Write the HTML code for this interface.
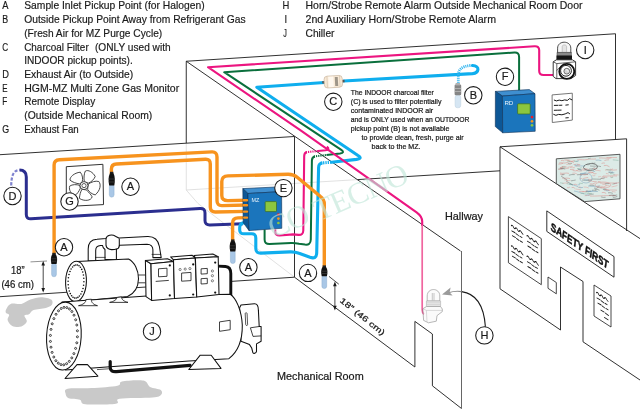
<!DOCTYPE html>
<html lang="en">
<head>
<meta charset="utf-8">
<title>HGM-MZ Multi Zone Gas Monitor installation diagram</title>
<style>
html,body{margin:0;padding:0;background:#fff;}
body{width:640px;height:410px;overflow:hidden;font-family:"Liberation Sans",sans-serif;}
svg{display:block;position:absolute;left:0;top:0;opacity:0.999;will-change:transform;}
svg text{font-family:"Liberation Sans",sans-serif;}
.lg{font-size:11px;fill:#1a1a1a;stroke:#1a1a1a;stroke-width:0.18px;}
.nt{font-size:7.3px;fill:#1a1a1a;}
.rm{font-size:9.6px;fill:#1a1a1a;stroke:#1a1a1a;stroke-width:0.22px;}
.cl{font-size:11px;fill:#1a1a1a;text-anchor:middle;stroke:#1a1a1a;stroke-width:0.2px;}
.wl{stroke:#1a1a1a;stroke-width:0.9;fill:none;}
.hl{stroke:#d9d9d9;stroke-width:0.8;fill:none;}
.or{stroke:#f7931e;stroke-width:3.4;fill:none;stroke-linecap:butt;stroke-linejoin:round;}
.nv{stroke:#2b2e8f;stroke-width:3;fill:none;stroke-linejoin:round;}
.cy{stroke:#0faeee;stroke-width:3.1;fill:none;stroke-linejoin:round;}
.gr{stroke:#0a6f3c;stroke-width:2;fill:none;stroke-linejoin:round;}
.pk{stroke:#ec1580;stroke-width:2.1;fill:none;stroke-linejoin:round;}
.cc{fill:#fff;stroke:#1a1a1a;stroke-width:1.05;}
.ch{fill:#fff;stroke:#111;stroke-width:1.05;stroke-linejoin:round;}
</style>
</head>
<body>
<svg width="640" height="410" viewBox="0 0 640 410">
<rect x="0" y="0" width="640" height="410" fill="#ffffff"/>

<!-- LEGEND -->
<g id="legend" class="lg">
<text x="2.2" y="9.4" textLength="6.2" lengthAdjust="spacingAndGlyphs">A</text><text x="24.2" y="9.4" textLength="180.5" lengthAdjust="spacingAndGlyphs">Sample Inlet Pickup Point (for Halogen)</text>
<text x="2.2" y="23.1" textLength="5.9" lengthAdjust="spacingAndGlyphs">B</text><text x="24.2" y="23.1" textLength="221.5" lengthAdjust="spacingAndGlyphs">Outside Pickup Point Away from Refrigerant Gas</text>
<text x="24.2" y="36.8" textLength="138" lengthAdjust="spacingAndGlyphs">(Fresh Air for MZ Purge Cycle)</text>
<text x="2.2" y="50.5" textLength="5.9" lengthAdjust="spacingAndGlyphs">C</text><text x="24.2" y="50.5" textLength="64.5" lengthAdjust="spacingAndGlyphs">Charcoal Filter</text><text x="95" y="50.5" textLength="75.6" lengthAdjust="spacingAndGlyphs">(ONLY used with</text>
<text x="24.2" y="64.2" textLength="108.5" lengthAdjust="spacingAndGlyphs">INDOOR pickup points).</text>
<text x="2.2" y="77.9" textLength="6.7" lengthAdjust="spacingAndGlyphs">D</text><text x="24.2" y="77.9" textLength="109" lengthAdjust="spacingAndGlyphs">Exhaust Air (to Outside)</text>
<text x="2.2" y="91.6" textLength="5.3" lengthAdjust="spacingAndGlyphs">E</text><text x="24.2" y="91.6" textLength="155" lengthAdjust="spacingAndGlyphs">HGM-MZ Multi Zone Gas Monitor</text>
<text x="2.2" y="105.3" textLength="5" lengthAdjust="spacingAndGlyphs">F</text><text x="24.2" y="105.3" textLength="71" lengthAdjust="spacingAndGlyphs">Remote Display</text>
<text x="24.2" y="119.0" textLength="128" lengthAdjust="spacingAndGlyphs">(Outside Mechanical Room)</text>
<text x="2.2" y="132.7" textLength="6.9" lengthAdjust="spacingAndGlyphs">G</text><text x="24.2" y="132.7" textLength="54.5" lengthAdjust="spacingAndGlyphs">Exhaust Fan</text>
<text x="282.6" y="9.4" textLength="6.8" lengthAdjust="spacingAndGlyphs">H</text><text x="305.5" y="9.4" textLength="277" lengthAdjust="spacingAndGlyphs">Horn/Strobe Remote Alarm Outside Mechanical Room Door</text>
<text x="284.4" y="23.1" textLength="2.6" lengthAdjust="spacingAndGlyphs">I</text><text x="305.5" y="23.1" textLength="190.5" lengthAdjust="spacingAndGlyphs">2nd Auxiliary Horn/Strobe Remote Alarm</text>
<text x="283.2" y="36.8" textLength="3.6" lengthAdjust="spacingAndGlyphs">J</text><text x="305.5" y="36.8" textLength="29" lengthAdjust="spacingAndGlyphs">Chiller</text>
</g>

<!-- ROOM STRUCTURE -->
<g id="walls">
<path class="hl" d="M186.25 143V190M186.25 190L357.7 179.6M186.25 190L198 203.5L294.5 277.2"/>
<path class="wl" d="M0 154.7L294.5 136.5"/>
<path class="wl" d="M186.25 61.25L615.5 33.75V139.4"/>
<path class="wl" d="M186.25 61.25V143"/>
<path class="wl" d="M186.25 61.25L460.5 251"/>
<path class="wl" d="M294.5 136.5V277.2"/>
<path class="wl" d="M0 296.7L294.5 277.2"/>
<path class="wl" d="M294.5 277.2L414.9 367V321.4L432.4 334V385.8L461.5 408.5"/>
<path d="M461.5 251V408.5" stroke="#555" stroke-width="0.9" fill="none"/>
<path class="wl" d="M357.7 179.6L500 170.8"/>
</g>


<!-- PIPES -->
<g id="pipes">
<!-- navy exhaust -->
<path d="M11.2 185.5C11.5 176 13 170.3 19.5 170" stroke="#7f83cf" stroke-width="2.2" fill="none" stroke-dasharray="3.2 1.6"/>
<path class="nv" d="M19.5 170C24.5 170 26.3 172.5 26.3 177V214.5Q26.3 219 31 218.7L200 208.5Q205 208.2 205 213V220.5Q205 225.2 210 225L243 223.8"/>
<!-- orange -->
<path class="or" d="M54.1 254V165Q54.1 160 59.5 159.7L212 151.9Q217 151.7 217 157V200.5Q217 205.8 222 205.6L247 205"/>
<path class="or" d="M111.4 174V169Q111.4 164.3 116.5 164L205.5 159.2Q210.3 159 210.3 164V207Q210.3 212.2 215.5 212L247 211.4"/>
<path class="or" d="M247 217.6L238 217.9Q232.6 218.1 232.6 223V242"/>
<!-- cyan -->
<path class="cy" d="M245 222.6Q239.7 223 239.7 227.5V230Q239.7 233.9 244 233.8L251.5 233.7Q255.8 233.6 255.8 238V248.5Q255.8 253.3 261 253.1L290 251.9Q295 251.7 299 253.3L310 257.3Q316.5 259.5 316.7 253L318.6 167.5Q318.7 163.3 322.5 163" />
<path class="cy" d="M320.8 163.1L331.7 162.1" stroke-dasharray="1.3 1"/>
<path class="cy" d="M331.7 162.3L356.5 159.4Q363 158.4 358 155.5L256.800 87.200L324.5 82.5M343.7 81L472.5 73.6C479 73 480.500 66 472.5 65.5" stroke-linecap="round"/>
<path d="M470.5 65.5C462 66.3 458.5 69 458.3 75V84" stroke="#2fb4ef" stroke-width="2.8" fill="none" stroke-dasharray="1.1 0.9"/>
<!-- green -->
<path class="gr" d="M264.6 229.5V239.5Q264.6 244.2 269.5 244.1L291 243.1Q295 243 299 243.7L305 244.6Q310.6 245.3 310.8 239.5L311.9 160.5Q312 156.8 315 156.4"/>
<path class="gr" d="M313.8 156.5L326.5 155" stroke-dasharray="1.2 1"/>
<path class="gr" d="M326.5 155L340 153.6Q345.3 152.8 341.3 149.9L224.2 72.2L514.5 52.5Q519.1 52.2 519.1 57V91.5"/>
<!-- pink -->
<path class="pk" d="M275.2 229.5V231.5Q275.2 235.6 279.5 235.5L293 234.4L298.5 234.9Q303.1 235.2 303.3 230.5L304.2 156Q304.3 152.5 307 152.1"/>
<path class="pk" d="M305.8 152.2L318 151" stroke-dasharray="1.2 1"/>
<path class="pk" d="M318 151L325.5 150.3Q330.5 149.6 326.8 146.7"/>
<path class="pk" d="M553 75H543.5Q539.2 75 539.2 71V50.3Q539.2 46 534.5 46.3L208 67.2L301 130.6L416.6 212.4Q422.2 216.4 422.2 221.5V226"/>
<path d="M422.2 225V310Q422.2 313 424 314.2" stroke="#f0659f" stroke-width="1.7" fill="none"/>
<path class="or" d="M247 200.2L228 200.6Q221.8 200.8 221.8 195.5V181.5Q221.8 176.2 228 175.9L288 174.3Q293.5 174.2 297.5 177.5L320.5 196.5Q324.3 199.5 324.3 204V268"/>
</g>


<!-- DEVICES -->
<g id="devices">
<!-- MZ box -->
<g id="mz">
<path d="M242.8 188.6L276 187L281.6 191.6L247.9 193.5Z" fill="#3f8fd0" stroke="#0b2f55" stroke-width="0.6" stroke-linejoin="round"/>
<path d="M242.8 188.6L247.9 193.5L249 230.6L243.2 222.6Z" fill="#0d5796" stroke="#0b2f55" stroke-width="0.6" stroke-linejoin="round"/>
<path d="M247.9 193.5L281.6 191.6L281.8 228.3L249 230.6Z" fill="#1b75bc" stroke="#0b2f55" stroke-width="0.6" stroke-linejoin="round"/>
<rect x="265.2" y="201.6" width="11.3" height="10" rx="0.8" fill="#8cc63f" stroke="#3b6e1f" stroke-width="0.7"/>
<circle cx="278.4" cy="214.5" r="1.35" fill="#ed1c24"/><circle cx="278.4" cy="218.6" r="1.35" fill="#f7941d"/><circle cx="278.4" cy="223" r="1.35" fill="#8cc63f"/>
<text x="251.4" y="201.6" font-size="5.4" fill="#e8f2fb">MZ</text>
<path d="M247 200.2H243.6M247 205.3H243.8M247 211.6H244M247 217.6H244.2" stroke="#f7931e" stroke-width="2.4" fill="none" stroke-linecap="round"/>
</g>
<!-- RD box -->
<g id="rd">
<path d="M495.4 91.4L529.3 89.6L535 93.7L502.4 96Z" fill="#3f8fd0" stroke="#0b2f55" stroke-width="0.6" stroke-linejoin="round"/>
<path d="M495.4 91.4L502.4 96L502.7 132.8L495.3 126.6Z" fill="#0d5796" stroke="#0b2f55" stroke-width="0.6" stroke-linejoin="round"/>
<path d="M502.4 96L535 93.7L535.2 131.3L502.7 132.8Z" fill="#1b75bc" stroke="#0b2f55" stroke-width="0.6" stroke-linejoin="round"/>
<rect x="517.6" y="103.8" width="12.6" height="10.2" rx="0.8" fill="#8cc63f" stroke="#3b6e1f" stroke-width="0.7"/>
<circle cx="532" cy="117.1" r="1.35" fill="#ed1c24"/><circle cx="532" cy="121.3" r="1.35" fill="#f7941d"/><circle cx="532" cy="125.3" r="1.35" fill="#8cc63f"/>
<text x="504.4" y="105.2" font-size="6.2" fill="#e8f2fb">RD</text>
</g>
<!-- sensors A -->
<g id="sA1"><rect x="109.3" y="184.4" width="4.8" height="12.8" rx="2.4" fill="#a9c7e6" stroke="#7fa3c8" stroke-width="0.4"/><rect x="110.0" y="171.8" width="3.4" height="2.6" fill="#222"/><path d="M109.8 173.6C108.3 176.6 108.3 180.8 109.1 185.6L114.3 185.6L114.3 185.6L114.3 185.6C115.1 180.8 115.1 176.6 113.6 173.6Z" fill="#111"/><path d="M108.8 179.0H114.6M108.8 182.0H114.6" stroke="#555" stroke-width="0.5"/></g>
<g id="sA2"><rect x="51.6" y="262.8" width="4.8" height="14.0" rx="2.4" fill="#a9c7e6" stroke="#7fa3c8" stroke-width="0.4"/><rect x="52.3" y="252.8" width="3.4" height="2.6" fill="#222"/><path d="M52.1 254.6C50.6 256.9 50.6 260.2 51.4 264.0L56.6 264.0L56.6 264.0L56.6 264.0C57.4 260.2 57.4 256.9 55.9 254.6Z" fill="#111"/><path d="M51.1 258.8H56.9M51.1 261.2H56.9" stroke="#555" stroke-width="0.5"/></g>
<g id="sA3"><rect x="230.4" y="250.2" width="4.8" height="13.4" rx="2.4" fill="#a9c7e6" stroke="#7fa3c8" stroke-width="0.4"/><rect x="231.1" y="239.4" width="3.4" height="2.6" fill="#222"/><path d="M230.9 241.2C229.4 243.8 229.4 247.3 230.2 251.4L235.4 251.4L235.4 251.4L235.4 251.4C236.2 247.3 236.2 243.8 234.7 241.2Z" fill="#111"/><path d="M229.9 245.8H235.7M229.9 248.3H235.7" stroke="#555" stroke-width="0.5"/></g>
<g id="sA4"><rect x="321.9" y="275.0" width="4.8" height="13.6" rx="2.4" fill="#a9c7e6" stroke="#7fa3c8" stroke-width="0.4"/><rect x="322.6" y="265.4" width="3.4" height="2.6" fill="#222"/><path d="M322.4 267.2C320.9 269.4 320.9 272.6 321.7 276.2L326.9 276.2L326.9 276.2L326.9 276.2C327.7 272.6 327.7 269.4 326.2 267.2Z" fill="#111"/><path d="M321.4 271.2H327.2M321.4 273.5H327.2" stroke="#555" stroke-width="0.5"/></g>
<!-- sensor B (faded) -->
<g id="sB"><rect x="455" y="95" width="5.8" height="12.8" rx="2.6" fill="#d6e6f3" stroke="#b5c9da" stroke-width="0.4"/><rect x="454.6" y="84.6" width="6.6" height="10.6" rx="1.2" fill="#858585"/><rect x="455.6" y="83" width="4.4" height="2.4" fill="#b0b0b0"/><path d="M454.4 88.5H461.2M454.4 91.5H461.2" stroke="#c9c9c9" stroke-width="0.6"/></g>
<!-- charcoal filter -->
<g id="filt" transform="rotate(-3.4 333.4 81.700)">
<rect x="322.2" y="80.5" width="3" height="2.4" fill="#555"/><rect x="341.600" y="80.5" width="3" height="2.4" fill="#555"/>
<rect x="324.2" y="75.8" width="18.2" height="11.800" rx="3.2" fill="#f8e9d6" stroke="#c2ad94" stroke-width="0.6"/>
<rect x="328.500" y="76.400" width="5" height="10.600" fill="#fffaf2" opacity="0.9"/>
<path d="M327.200 76V87.400M339.800 76V87.400" stroke="#d3c1aa" stroke-width="0.6"/>
<rect x="335" y="77.200" width="3" height="9" fill="#6f6a60" opacity="0.65"/>
</g>
</g>

<!-- FOREGROUND WALL -->
<g id="fwall">
<path class="wl" d="M500 146.8L626.6 138.8V231"/>
<path class="wl" d="M500 146.8L640 238.6"/>
<path class="wl" d="M500 146.8V288.8L560.5 330V267L583 281.5V341.8L640 380"/>
</g>
<!-- whiteboard on inner face -->
<g id="wb">
<path d="M556.3 158.8L620 154.3V198.8L584.6 201.6L556.3 183.6Z" fill="#dcebe7" stroke="#333" stroke-width="0.8" stroke-linejoin="round"/>
<g fill="none" stroke-width="0.5" opacity="0.8">
<path d="M559 163c3-1 5 1 8-.5s5-1 7 0M560 168c4-.5 6 1 9 0M577 160c4-1 7 .5 10-.5s6 0 9-.6M599 158c3-.4 6 .5 9 0s6-.6 9-.4M560 173c3 1 6-.6 9 .4M562 178c3 .6 5-.4 8 .6M605 170c3-.5 6 .6 12-.2M603 176c4 .4 8-.6 14 0M600 183c5 .6 9-.4 17 .2M604 190c4 .4 8-.4 13 .2M590 196c6 .4 12-.6 26-.4" stroke="#d9736f"/>
<path d="M575 166c4-.6 7 .4 10-.2M569 184c3 .5 6 1.4 9 2.6M574 191c4 .8 7 1.6 10 3M588 186c4 .4 8 .6 12 0M586 191c4 .4 8 .8 12 .4" stroke="#5b8fb5"/>
<path d="M561 176l6 4M566 181l7 4M590 166c4 .6 8-.4 11 .6M592 179c3 .4 6-.2 9 .3M580 174c3 .3 5 .2 8 .5M582 180c2 .3 5 .2 7 .4" stroke="#555"/>
</g>
<g fill="none" stroke-width="0.55" opacity="0.75"><path d="M571.2 161.6q1.9 -1.0 3.9 -0.7" stroke="#d9736f"/><path d="M588.8 169.1q3.0 0.1 6.0 -1.3" stroke="#555"/><path d="M573.5 164.4q1.4 0.7 2.9 -0.4" stroke="#d9736f"/><path d="M603.2 189.5q1.6 0.7 3.2 -0.3" stroke="#6aa089"/><path d="M611.8 191.4q1.9 0.3 3.8 0.7" stroke="#e08b86"/><path d="M586.3 164.6q2.1 0.7 4.2 -0.9" stroke="#555"/><path d="M558.4 169.2q2.5 -0.6 5.0 -0.5" stroke="#555"/><path d="M581.7 169.0q2.0 0.6 4.1 -0.5" stroke="#e08b86"/><path d="M593.1 168.7q2.2 -0.7 4.4 -0.1" stroke="#e08b86"/><path d="M595.7 160.2q2.8 -0.4 5.7 0.4" stroke="#5b8fb5"/><path d="M577.9 187.4q1.8 -0.8 3.6 0.1" stroke="#e08b86"/><path d="M561.5 166.7q2.6 -0.8 5.2 0.3" stroke="#d9736f"/><path d="M610.3 169.1q1.3 0.8 2.6 -0.2" stroke="#d9736f"/><path d="M611.5 186.9q2.9 -0.4 5.9 -1.4" stroke="#e08b86"/><path d="M566.6 183.6q2.8 0.6 5.5 1.0" stroke="#6aa089"/><path d="M574.4 165.2q2.0 0.2 4.1 -0.7" stroke="#5b8fb5"/><path d="M566.9 180.4q1.9 0.6 3.8 -0.1" stroke="#e08b86"/><path d="M578.3 169.1q1.4 0.8 2.8 0.7" stroke="#5b8fb5"/><path d="M564.4 160.0q2.5 0.2 5.1 0.2" stroke="#d9736f"/><path d="M588.6 180.8q1.8 -0.4 3.6 -0.8" stroke="#555"/><path d="M613.8 183.6q1.6 -0.2 3.2 -0.5" stroke="#5b8fb5"/><path d="M560.1 174.3q1.7 -0.0 3.4 0.7" stroke="#d9736f"/><path d="M559.8 167.7q1.7 -0.2 3.3 -0.5" stroke="#d9736f"/><path d="M572.7 170.5q2.8 1.0 5.6 -0.5" stroke="#d9736f"/><path d="M580.6 193.5q2.4 -0.9 4.8 0.7" stroke="#6aa089"/><path d="M579.7 174.7q2.9 -0.3 5.8 0.2" stroke="#d9736f"/><path d="M594.8 189.5q2.4 -0.6 4.7 0.7" stroke="#555"/><path d="M602.9 189.5q1.8 -0.9 3.7 -0.2" stroke="#5b8fb5"/><path d="M612.4 196.0q2.4 -0.7 4.8 -1.1" stroke="#555"/><path d="M612.2 184.2q1.4 -0.1 2.7 -0.5" stroke="#6aa089"/><path d="M584.4 173.6q1.9 0.8 3.9 0.6" stroke="#d9736f"/><path d="M601.8 192.6q2.2 -0.7 4.4 0.8" stroke="#d9736f"/><path d="M592.1 190.2q2.2 -0.1 4.5 0.6" stroke="#555"/><path d="M564.3 179.9q1.7 -0.3 3.4 0.5" stroke="#d9736f"/><path d="M601.0 178.4q1.3 -0.8 2.5 0.4" stroke="#d9736f"/><path d="M588.4 172.7q2.6 0.5 5.3 -0.5" stroke="#d9736f"/><path d="M605.9 173.5q1.4 0.0 2.8 0.6" stroke="#e08b86"/><path d="M582.3 191.8q2.6 0.3 5.2 -1.1" stroke="#d9736f"/><path d="M610.1 176.6q1.5 0.7 2.9 0.1" stroke="#e08b86"/><path d="M567.9 163.5q2.1 0.9 4.2 -0.3" stroke="#555"/><path d="M558.3 164.2q2.4 -0.0 4.8 -0.9" stroke="#d9736f"/><path d="M598.1 176.9q1.4 -0.3 2.8 -0.4" stroke="#e08b86"/><path d="M600.9 196.9q2.3 0.8 4.7 0.4" stroke="#555"/><path d="M588.5 193.9q2.6 0.6 5.2 0.2" stroke="#555"/><path d="M592.3 175.2q1.5 1.0 3.0 0.4" stroke="#e08b86"/><path d="M577.0 174.8q2.3 -0.6 4.6 0.4" stroke="#555"/><path d="M608.5 172.4q2.3 0.8 4.5 -0.3" stroke="#555"/><path d="M562.3 183.3q2.8 -0.3 5.7 -0.5" stroke="#e08b86"/><path d="M604.5 189.5q2.7 -0.6 5.3 1.2" stroke="#d9736f"/><path d="M613.3 183.9q3.0 -0.7 5.7 -1.3" stroke="#d9736f"/><path d="M584.8 193.0q1.6 -0.4 3.3 0.5" stroke="#6aa089"/><path d="M610.0 173.7q2.3 -0.6 4.6 0.9" stroke="#6aa089"/><path d="M578.6 187.3q2.2 0.8 4.4 0.1" stroke="#5b8fb5"/><path d="M580.4 173.5q2.7 0.2 5.4 -0.6" stroke="#5b8fb5"/><path d="M583.7 179.9q2.7 0.2 5.4 -0.3" stroke="#5b8fb5"/><path d="M566.7 160.2q3.0 0.2 5.9 1.4" stroke="#e08b86"/><path d="M575.5 161.2q1.7 0.8 3.4 -0.5" stroke="#5b8fb5"/><path d="M601.6 163.4q1.7 -0.7 3.3 -0.3" stroke="#d9736f"/><path d="M602.3 184.7q2.2 -1.0 4.4 1.0" stroke="#e08b86"/><path d="M571.7 187.6q1.6 -0.8 3.2 0.7" stroke="#d9736f"/><path d="M597.3 186.8q2.4 0.4 4.8 1.1" stroke="#6aa089"/><path d="M589.4 185.3q2.5 -0.2 5.0 0.1" stroke="#555"/><path d="M570.0 169.4q2.1 0.7 4.3 -0.3" stroke="#d9736f"/><path d="M572.3 173.2q2.4 -0.7 4.9 0.9" stroke="#e08b86"/><path d="M573.6 184.5q1.8 -0.7 3.6 0.5" stroke="#d9736f"/><path d="M605.5 190.4q1.7 0.8 3.3 0.1" stroke="#5b8fb5"/><path d="M587.8 192.9q2.0 0.9 4.1 0.5" stroke="#6aa089"/><path d="M579.2 191.4q2.7 -0.1 5.4 0.2" stroke="#d9736f"/><path d="M608.6 171.8q2.9 0.2 5.8 1.0" stroke="#5b8fb5"/><path d="M560.1 182.8q1.7 0.2 3.4 0.6" stroke="#6aa089"/><path d="M601.9 176.6q2.7 0.8 5.4 0.8" stroke="#d9736f"/><path d="M608.0 192.8q2.4 -0.4 4.8 0.5" stroke="#555"/><path d="M584.7 195.7q2.9 -0.0 5.7 -0.9" stroke="#d9736f"/><path d="M588.6 181.4q1.7 -0.3 3.4 -0.5" stroke="#d9736f"/><path d="M591.7 163.0q1.8 0.7 3.6 0.0" stroke="#555"/><path d="M562.0 166.5q1.7 0.9 3.5 0.8" stroke="#6aa089"/><path d="M569.9 167.5q2.5 0.7 5.1 -0.4" stroke="#e08b86"/><path d="M593.4 173.6q1.6 0.5 3.1 -0.0" stroke="#d9736f"/><path d="M606.3 169.5q2.5 0.4 4.9 0.7" stroke="#6aa089"/><path d="M576.0 166.1q2.1 -0.3 4.2 -0.1" stroke="#e08b86"/><path d="M608.9 195.5q2.9 -0.6 5.7 -0.3" stroke="#555"/><path d="M573.7 161.0q2.0 0.8 3.9 0.2" stroke="#6aa089"/><path d="M567.3 161.2q1.6 -0.6 3.2 0.7" stroke="#6aa089"/><path d="M594.0 188.1q2.4 1.0 4.8 -1.2" stroke="#555"/><path d="M567.3 167.3q2.7 -0.4 5.5 -1.1" stroke="#e08b86"/><path d="M589.8 183.9q2.8 0.8 5.7 -1.2" stroke="#d9736f"/><path d="M599.8 187.7q2.7 -0.9 5.3 0.5" stroke="#e08b86"/><path d="M576.2 170.6q3.0 1.0 5.9 0.3" stroke="#e08b86"/><path d="M567.1 187.7q1.3 0.4 2.7 -0.6" stroke="#d9736f"/><path d="M612.8 159.8q2.8 0.3 5.7 0.6" stroke="#6aa089"/><path d="M585.7 191.4q2.6 0.1 5.3 -0.3" stroke="#555"/><path d="M588.3 172.0q2.6 -0.6 5.1 0.9" stroke="#d9736f"/><path d="M578.1 169.4q1.9 0.4 3.8 0.7" stroke="#555"/><path d="M579.5 178.9q1.4 -0.6 2.9 -0.4" stroke="#e08b86"/><path d="M587.9 158.3q1.5 0.5 2.9 -0.3" stroke="#6aa089"/><path d="M610.6 177.4q1.3 0.6 2.6 -0.3" stroke="#6aa089"/><path d="M592.6 171.5q1.3 -0.9 2.5 0.2" stroke="#5b8fb5"/><path d="M601.9 186.8q2.0 0.2 4.0 -0.8" stroke="#e08b86"/><path d="M561.0 160.6q1.5 -0.6 3.1 0.3" stroke="#d9736f"/><path d="M592.4 181.5q2.3 -0.2 4.6 0.5" stroke="#d9736f"/><path d="M571.0 180.9q2.3 -0.4 4.7 -0.9" stroke="#555"/><path d="M582.4 170.1q2.4 0.9 4.7 -0.8" stroke="#e08b86"/><path d="M604.9 183.9q2.3 -0.3 4.5 -0.3" stroke="#555"/><path d="M588.1 179.3q1.9 -0.0 3.8 0.7" stroke="#d9736f"/><path d="M604.4 160.5q2.3 -0.7 4.7 -0.7" stroke="#d9736f"/><path d="M597.8 181.4q1.3 0.4 2.7 0.4" stroke="#d9736f"/><path d="M566.4 164.5q2.3 -0.6 4.7 -0.5" stroke="#e08b86"/><path d="M584.5 168.8q2.5 -0.4 4.9 1.1" stroke="#d9736f"/><path d="M587.6 191.6q2.7 0.4 5.5 -1.2" stroke="#5b8fb5"/><path d="M602.8 189.1q1.3 0.9 2.6 -0.4" stroke="#6aa089"/><path d="M603.8 165.6q2.9 -1.0 5.7 1.2" stroke="#d9736f"/><path d="M558.2 169.2q2.2 0.0 4.3 -0.2" stroke="#d9736f"/><path d="M577.0 164.2q1.6 0.4 3.2 0.3" stroke="#d9736f"/><path d="M561.6 174.9q1.5 -0.4 3.0 -0.6" stroke="#555"/><path d="M577.0 168.6q2.3 0.2 4.6 -0.9" stroke="#6aa089"/><path d="M560.4 168.4q2.4 -0.3 4.8 0.7" stroke="#555"/><path d="M600.5 178.5q2.2 -0.1 4.4 -0.6" stroke="#555"/><path d="M612.9 197.4q2.3 0.1 4.5 -1.1" stroke="#555"/><path d="M596.3 186.5q2.9 -0.7 5.8 -0.1" stroke="#e08b86"/><path d="M605.6 185.7q2.2 -0.3 4.4 0.3" stroke="#e08b86"/><path d="M595.2 170.1q2.8 0.3 5.5 0.8" stroke="#e08b86"/><path d="M568.9 175.2q3.0 -1.0 5.9 -0.6" stroke="#555"/><path d="M606.6 157.6q2.4 0.8 4.8 0.1" stroke="#d9736f"/><path d="M578.9 183.3q1.9 -0.1 3.9 0.3" stroke="#6aa089"/><path d="M586.4 171.2q1.3 -1.0 2.7 -0.4" stroke="#5b8fb5"/><path d="M613.6 174.9q2.5 -0.3 5.1 0.1" stroke="#e08b86"/><path d="M577.6 184.8q1.3 0.1 2.5 -0.2" stroke="#5b8fb5"/><path d="M585.4 195.0q2.0 -0.7 4.0 0.5" stroke="#5b8fb5"/><path d="M583.1 178.5q2.6 -0.7 5.1 -1.0" stroke="#d9736f"/><path d="M583.6 187.0q2.6 -0.2 5.2 1.0" stroke="#e08b86"/><path d="M575.3 188.9q2.8 0.8 5.6 0.6" stroke="#e08b86"/></g>
<ellipse cx="590.5" cy="167" rx="7" ry="3.4" fill="none" stroke="#444" stroke-width="0.6" transform="rotate(-4 590.5 167)"/>
<ellipse cx="586" cy="178" rx="6" ry="5" fill="none" stroke="#7aa0b8" stroke-width="0.5"/>
<ellipse cx="603" cy="185" rx="8" ry="3" fill="none" stroke="#d9908c" stroke-width="0.5"/>
</g>
<!-- paper under I -->
<g id="paperI">
<path d="M552.1 94.9L572.3 93.2V120.1L552.3 122.5Z" fill="#fff" stroke="#555" stroke-width="0.8" stroke-linejoin="round"/>
<g fill="none" stroke="#1a1a1a" stroke-width="1" stroke-linecap="round" stroke-linejoin="round">
<path d="M554.3 100.1 L556.4 100.9 L559.2 100.1 L561.9 100.7 L564.7 99.9 L567.4 100.4 L569.6 98.6 L571.8 99.8"/>
<path d="M554.3 105.4 L558.1 105.3 M559.5 105.3 L561.9 105.2 M565.8 105.1 L568.3 104.8"/>
<path d="M554.3 110.3 L557.5 110.2 M558.4 110.2 L561.1 110.1"/>
<path d="M553.7 114.4 L555.9 115.3 L558.6 114.4 L561.9 114.8 L565.2 113.9 L568.0 112.6 L569.6 113.7"/>
<path d="M565.8 117.9 L568.3 117.7"/>
</g>
</g>
<!-- front face items -->
<g id="front">
<path d="M508.4 216.6L541.3 238.6V284.7L508.4 262.7Z" fill="#fff" stroke="#1a1a1a" stroke-width="0.8" stroke-linejoin="round"/>
<g fill="none" stroke="#1a1a1a" stroke-width="1" stroke-linecap="round" transform="translate(508.4 216.6) skewY(33.8)"><path d="M3 7q1-1.8 2 0t2 0t2 0t2 0t2 0l1.5 1"/><path d="M3.5 12l3 -.3M7.7 12l2.5 .2M11.5 12l2 -.2"/><path d="M4 16.5l3 -.3M8.2 16.5l2.5 .2M12 16.5l2 -.2"/><path d="M3 27.5q1-1.8 2 0t2 0t2 0t2 0t2 0l1.5 1"/><path d="M3.5 32.5l3 -.3M7.7 32.5l2.5 .2M11.5 32.5l2 -.2"/><path d="M4 37.0l3 -.3M8.2 37.0l2.5 .2M12 37.0l2 -.2"/><path d="M18.5 7q1-1.8 2 0t2 0t2 0t2 0t2 0l1.5 1"/><path d="M19.0 12l3 -.3M23.2 12l2.5 .2M27.0 12l2 -.2"/><path d="M19.5 16.5l3 -.3M23.7 16.5l2.5 .2M27.5 16.5l2 -.2"/><path d="M18.5 27.5q1-1.8 2 0t2 0t2 0t2 0t2 0l1.5 1"/><path d="M19.0 32.5l3 -.3M23.2 32.5l2.5 .2M27.0 32.5l2 -.2"/><path d="M19.5 37.0l3 -.3M23.7 37.0l2.5 .2M27.5 37.0l2 -.2"/></g>
<path d="M546.8 210.9L614 256.6V277.2L546.8 231.4Z" fill="#fff" stroke="#1a1a1a" stroke-width="0.9" stroke-linejoin="round"/>
<text transform="translate(550.8 230.2) skewY(34.2)" font-size="12" font-weight="bold" font-style="italic" fill="#111" stroke="#111" stroke-width="0.55" textLength="57.5" lengthAdjust="spacingAndGlyphs">SAFETY FIRST</text>
<path d="M548 277L556.3 282.5V293.8L548 288.3Z" fill="#fff" stroke="#1a1a1a" stroke-width="0.8" stroke-linejoin="round"/>
<path d="M594 285L611 296V327L594 316Z" fill="#fff" stroke="#1a1a1a" stroke-width="0.8" stroke-linejoin="round"/>
<g fill="none" stroke="#1a1a1a" stroke-width="1" stroke-linecap="round" transform="translate(594 285) skewY(33.8)"><path d="M2.5 6q1-1.8 2 0t2 0t2 0t2 0t2 0l1.5 1"/><path d="M3 11l3 -.3M7.2 11l2.5 .2M11 11l2 -.2"/><path d="M4 15.5l3 -.3M8.2 15.5l2.5 .2M12 15.5l2 -.2"/><path d="M7 20.5l3 -.2M11.500 20.5l3 .2"/><path d="M10.5 25.500l3.500 -.2"/></g>
</g>




<!-- CLOUDS -->
<g id="clouds" fill="#c9c9c9">
<path d="M6.1 309.4C6.9 307.9 8.1 304.8 10.7 303.9C13.2 303.0 18.0 304.6 21.4 303.9C24.7 303.2 27.2 300.8 30.5 299.6C33.8 298.5 37.7 297.2 41.2 297.2C44.6 297.2 49.5 298.4 51.3 299.6C53.0 300.9 52.8 303.5 51.9 304.8C50.9 306.2 48.8 307.0 45.8 307.9C42.7 308.7 36.4 308.9 33.6 310.0C30.8 311.1 30.5 313.4 29.0 314.3C27.5 315.2 24.8 314.3 24.4 315.5C24.0 316.7 27.4 319.8 26.8 321.6C26.3 323.4 23.8 325.8 21.4 326.5C18.9 327.2 14.5 326.9 12.2 325.9C9.9 324.8 8.1 321.9 7.6 320.1C7.1 318.3 9.4 316.1 9.2 314.9C8.9 313.7 6.6 314.0 6.1 313.1C5.6 312.2 5.3 310.9 6.1 309.4Z"/>
<path d="M65.6 393.6C65.4 392.0 63.4 389.6 67.7 388.7C72.0 387.8 83.2 388.6 91.5 388.1C99.8 387.6 112.4 386.8 117.4 385.7C122.5 384.6 117.7 382.3 122.0 381.4C126.3 380.5 138.7 379.6 143.4 380.5C148.1 381.4 147.2 385.3 150.1 386.9C153.0 388.5 158.9 388.6 160.8 389.9C162.6 391.3 162.4 393.6 161.1 394.8C159.7 396.1 159.4 396.9 152.5 397.6C145.6 398.2 125.7 397.8 119.6 398.8C113.5 399.8 121.6 402.8 115.9 403.7C110.2 404.6 91.4 404.9 85.4 404.3C79.4 403.6 82.7 400.7 79.9 399.7C77.1 398.7 71.0 399.2 68.6 398.2C66.2 397.2 65.7 395.2 65.6 393.6Z"/>
</g>
<!-- CHILLER -->
<g id="chiller" class="ch">
<!-- top piping -->
<path d="M88.2 261V249C88.2 242.500 91.500 239.400 97 239.200L106 238.600C106.500 235 112 233.800 115.500 236.200C117.500 237.200 118.800 238.200 119.300 238L147.500 236.500C154.500 236.300 158.200 240 159.400 246.500L161.200 257.600H152.900V250C153 246.500 151 244.200 147 244.200L119.500 245.300C119 248 117.800 248.800 116.400 249V259.600H105V249.500C103 247.800 102.500 246.500 102.600 245.500L100.500 245.600C97.500 245.800 95.700 247.500 95.700 250.500V260.500Z"/>
<path d="M106 238.600V245.400C106.200 248 109 249.800 112 249.600C114 249.600 115.600 249.300 116.400 249M119.300 238.400V245.900" fill="none"/>
<path d="M95 257.400H105.600M151.600 254.400H161.200" fill="none" stroke-width="0.7"/>
<!-- condenser -->
<path d="M76.900 261.400L128.500 259C134.500 262 138.500 270 138.500 278.700C138.300 287 134.200 293.500 127.600 296.500L76 301.600Z"/>
<path d="M138 275H145.600M138.200 282.800H145.600" fill="none" stroke-width="0.8"/>
<ellipse cx="76" cy="281.500" rx="10.400" ry="20.200" transform="rotate(2 76 281.500)"/>
<g fill="#111" stroke="none"><circle cx="83.9" cy="281.8" r="0.8"/><circle cx="83.6" cy="285.2" r="0.8"/><circle cx="83.0" cy="288.5" r="0.8"/><circle cx="82.0" cy="291.5" r="0.8"/><circle cx="80.9" cy="294.0" r="0.8"/><circle cx="79.4" cy="296.0" r="0.8"/><circle cx="77.9" cy="297.4" r="0.8"/><circle cx="76.2" cy="298.0" r="0.8"/><circle cx="74.6" cy="298.0" r="0.8"/><circle cx="73.0" cy="297.2" r="0.8"/><circle cx="71.6" cy="295.7" r="0.8"/><circle cx="70.3" cy="293.6" r="0.8"/><circle cx="69.3" cy="291.0" r="0.8"/><circle cx="68.6" cy="288.0" r="0.8"/><circle cx="68.2" cy="284.7" r="0.8"/><circle cx="68.1" cy="281.2" r="0.8"/><circle cx="68.4" cy="277.8" r="0.8"/><circle cx="69.0" cy="274.5" r="0.8"/><circle cx="70.0" cy="271.5" r="0.8"/><circle cx="71.1" cy="269.0" r="0.8"/><circle cx="72.6" cy="267.0" r="0.8"/><circle cx="74.1" cy="265.6" r="0.8"/><circle cx="75.8" cy="265.0" r="0.8"/><circle cx="77.4" cy="265.0" r="0.8"/><circle cx="79.0" cy="265.8" r="0.8"/><circle cx="80.4" cy="267.3" r="0.8"/><circle cx="81.7" cy="269.4" r="0.8"/><circle cx="82.7" cy="272.0" r="0.8"/><circle cx="83.4" cy="275.0" r="0.8"/><circle cx="83.8" cy="278.3" r="0.8"/></g>
<!-- right attachment -->
<path d="M239.600 307.700L241 305L254.400 303.700C257 303.600 258.400 305.500 258.400 310.400L259.200 326.500H261.100V341.200L256.500 343.900V351.400C256 353.600 253.600 354 252.800 352.400L251.700 348L249.500 344.600L241 341.200Z"/>
<path d="M245.200 313.600C245.200 312.400 247 312.400 247.100 313.600L247.600 324.600C247.600 325.800 245.800 325.800 245.700 324.600Z" stroke-width="0.7"/>
<path d="M250.400 327.800L259.200 326.500M261.100 335.900L253 336.400L250.400 327.800" fill="none" stroke-width="0.8"/>
<!-- black pipe right -->
<path d="M218 266.100L225.500 266.500C229.500 266.800 230.800 269.500 230.800 273.500V296H218Z" fill="#fff" stroke="none"/>
<path d="M218 266.100L225.500 266.500C229.500 266.800 230.800 269.500 230.800 273.500V296" fill="none" stroke="#111" stroke-width="2.9"/>
<!-- evaporator -->
<path d="M62 302L150 295.800L230.200 294.300C236 298 241.500 310 242.300 325C242.500 340 237.500 352 228.900 358.700L189 361L65.500 369.900Z"/>
<path d="M219.500 321.900L230.200 320.300V329.700L219.500 331.300Z" stroke-width="0.8"/>
<ellipse cx="63.900" cy="336.100" rx="17.300" ry="34" transform="rotate(3 63.900 336.100)"/>
<g fill="#fff" stroke="#111" stroke-width="0.8"><circle cx="77.4" cy="336.8" r="1.0"/><circle cx="76.8" cy="342.8" r="1.0"/><circle cx="75.6" cy="348.4" r="1.0"/><circle cx="73.9" cy="353.6" r="1.0"/><circle cx="71.8" cy="357.9" r="1.0"/><circle cx="69.3" cy="361.4" r="1.0"/><circle cx="66.6" cy="363.7" r="1.0"/><circle cx="63.8" cy="364.8" r="1.0"/><circle cx="61.0" cy="364.6" r="1.0"/><circle cx="58.3" cy="363.2" r="1.0"/><circle cx="55.9" cy="360.7" r="1.0"/><circle cx="53.8" cy="357.0" r="1.0"/><circle cx="52.1" cy="352.4" r="1.0"/><circle cx="51.0" cy="347.2" r="1.0"/><circle cx="50.4" cy="341.4" r="1.0"/><circle cx="50.4" cy="335.4" r="1.0"/><circle cx="51.0" cy="329.4" r="1.0"/><circle cx="52.2" cy="323.8" r="1.0"/><circle cx="53.9" cy="318.6" r="1.0"/><circle cx="56.0" cy="314.3" r="1.0"/><circle cx="58.5" cy="310.8" r="1.0"/><circle cx="61.2" cy="308.5" r="1.0"/><circle cx="64.0" cy="307.4" r="1.0"/><circle cx="66.8" cy="307.6" r="1.0"/><circle cx="69.5" cy="309.0" r="1.0"/><circle cx="71.9" cy="311.5" r="1.0"/><circle cx="74.0" cy="315.2" r="1.0"/><circle cx="75.7" cy="319.8" r="1.0"/><circle cx="76.8" cy="325.0" r="1.0"/><circle cx="77.4" cy="330.8" r="1.0"/></g>
<!-- condenser feet -->
<path d="M85.800 299.600C86.400 302.500 83 304.600 78.500 305.700H97.500C93.500 304.600 91 302.500 91.400 299.200Z" stroke-width="0.8"/>
<path d="M116.600 297.400C117.200 299.600 114 301.400 109.600 302.400H128C124 301.400 121.400 299.600 121.600 296.900Z" stroke-width="0.8"/>
<!-- feet -->
<path d="M97 369.6L110 368.700" fill="none" stroke-width="0.7"/>
<path d="M110.200 361.500V367.200C110.200 370.800 112.500 371.900 116.400 371.600L190 365.300" fill="none" stroke="#111" stroke-width="3.2" stroke-linecap="round"/>
<path d="M77 364.600H87.500L97.900 376.200L65 378.500Z"/>
<path d="M200.200 355.200H211.200L221 368.400L188.800 369.500Z"/>
<!-- control panels -->
<path d="M145.400 260.400L151 263.800L151.600 300.400L146 296.600Z"/>
<path d="M145.400 260.400L167.500 258.800L173.500 261.600L151 263.800Z"/>
<path d="M151 263.800L173.500 261.600L174.500 298.600L151.600 300.400Z"/>
<path d="M170.600 256.900L192 255.200L195.200 258L173.500 259.800Z"/>
<path d="M173.500 259.800L195.200 258L196.700 297L174.500 298.600Z"/>
<path d="M194 255.400L212.800 254L218.200 256.700L195.400 258Z"/>
<path d="M195.400 258L218.200 256.700L219 294.600L196.700 297Z"/>
<g fill="#111" stroke="none"><circle cx="169.800" cy="265.400" r="1.100"/><circle cx="169.800" cy="295.400" r="1.100"/><circle cx="193.200" cy="264.400" r="1.100"/><circle cx="193.200" cy="294.500" r="1.100"/><circle cx="215.200" cy="262.600" r="1.100"/><circle cx="215.200" cy="292.600" r="1.100"/></g>
<path d="M158.500 268.800L167 268.200V276.300L158.500 276.800Z" stroke-width="0.800"/>
<path d="M155.700 281.400L168.800 280.400" fill="none" stroke-width="0.800"/>
<g stroke-width="0.500"><circle cx="180.100" cy="269.500" r="1.100"/><circle cx="185.200" cy="269.100" r="1.100"/><circle cx="189.900" cy="268.600" r="1.100"/></g>
<path d="M181.600 273.100L191 272.400V280.600L181.600 281.200Z" stroke-width="0.800"/>
<path d="M201.100 268.800L207.300 268.400V273.700L201.100 274.100Z" stroke-width="0.800"/>
<path d="M201.100 278.700L207.300 278.300V283.600L201.100 284Z" stroke-width="0.800"/>
<g stroke-width="0.500"><circle cx="212.400" cy="271" r="1.100"/><circle cx="212.400" cy="275.700" r="1.100"/><circle cx="212.400" cy="280.800" r="1.100"/></g>
</g>

<!-- HORN I -->
<g id="hornI">
<path d="M557.600 53V48.200C557.600 40.200 570.800 40.200 570.800 48.200V53Z" fill="#f6f6f6" stroke="#222" stroke-width="0.8"/>
<path d="M562.200 52V46.500C562.200 44.400 566.600 44.400 566.600 46.500V52" fill="#e4e4e4" stroke="#aaa" stroke-width="0.6"/>
<path d="M557 52.400H571.400V56H557Z" fill="#8a8a8a" stroke="#333" stroke-width="0.5"/>
<path d="M556.400 55.600H572V60.600H556.400Z" fill="#161616"/>
<path d="M553.200 61.800L556.400 59.800H572.400L575.600 61.800V75.500L571 78.600H556L553.200 76.400Z" fill="#fff" stroke="#222" stroke-width="0.9" stroke-linejoin="round"/>
<path d="M553.200 61.800L556.800 63.600V78.200M556.800 63.600L575.600 61.800M556.800 70.500L561 66" fill="none" stroke="#222" stroke-width="0.7"/>
<circle cx="566.800" cy="71.400" r="7.500" fill="#fff" stroke="#111" stroke-width="1.9"/>
<circle cx="566" cy="70.800" r="5.400" fill="#fff" stroke="#111" stroke-width="0.9"/>
<circle cx="566.800" cy="71.200" r="2.900" fill="#d4d4d4" stroke="#444" stroke-width="0.7"/>
<path d="M565.800 69.800C567.600 69.400 568.600 70.800 568 72.200" fill="none" stroke="#fff" stroke-width="0.8"/>
</g>
<!-- HORN H (faded, behind wall) -->
<g id="hornH" opacity="0.6">
<path d="M427.200 301V296C427.200 287.400 439.800 287.400 439.800 296V301Z" fill="#fafafa" stroke="#555" stroke-width="0.7"/>
<path d="M432.300 300.500V293M434 300.500V293" fill="none" stroke="#777" stroke-width="0.7"/>
<path d="M426.400 301H440.600V306.400H426.400Z" fill="#dcdcdc" stroke="#777" stroke-width="0.6"/>
<path d="M426.400 302.800H440.600M426.400 304.600H440.600" stroke="#999" stroke-width="0.5"/>
<path d="M422.800 308.800L426.500 306.500H440.500L442.300 309V311.600L437 315.600L436.300 321.200L428.500 322.800L423.600 320.400Z" fill="#f8f8f8" stroke="#555" stroke-width="0.7" stroke-linejoin="round"/>
<path d="M422.800 308.800L426.400 310.400H442.300M426.400 310.400L427 321.800" fill="none" stroke="#888" stroke-width="0.5"/>
</g>
<!-- arrow H -->
<path d="M485.4 326.7C484 306 476 293.5 461.6 291.6" fill="none" stroke="#1a1a1a" stroke-width="1.1"/>
<path d="M461.6 291.6C456.5 290.9 452 291.6 448.5 292.8" fill="none" stroke="#8c8c8c" stroke-width="1.1"/>
<path d="M442 294.6L450.6 287.6L449.6 292.4L452.6 295.6Z" fill="#9a9a9a"/>
<!-- FAN -->
<g id="fan">
<path d="M66.3 166.7L102.9 164.3L103.5 204.6L66.3 206.5Z" fill="#fff" stroke="#333" stroke-width="1" stroke-linejoin="round"/>
<g fill="#fff" stroke="#333" stroke-width="0.9" stroke-linejoin="round">
<path d="M84.3 181.6C83.7 178.3 84.0 173.4 85.4 171.0C88.2 169.5 93.1 172.2 95.2 176.5C94.0 179.5 91.3 182.0 88.3 183.2Z"/>
<path d="M88.3 184.1C91.3 182.0 95.5 180.5 98.8 181.5C101.3 184.4 100.4 190.5 95.2 194.9C91.9 194.1 89.1 192.0 87.6 189.3Z"/>
<path d="M86.4 189.9C88.2 192.0 91.3 194.8 92.1 196.8C91.3 200.9 84.0 201.5 79.4 198.4C79.7 194.8 80.5 191.7 82.0 189.3Z"/>
<path d="M80.3 188.3C79.1 191.1 77.2 194.1 74.8 195.6C71.1 194.1 68.7 189.9 69.6 186.2C72.4 184.1 76.6 184.4 79.8 185.4Z"/>
<path d="M79.8 183.9C76.0 183.4 72.4 182.2 70.0 180.1C69.6 177.1 74.2 172.8 80.3 172.2C82.7 175.2 83.0 178.9 82.2 182.0Z"/>
</g>
<circle cx="84" cy="185.6" r="4" fill="#fff" stroke="#333" stroke-width="0.9"/>
<circle cx="84" cy="185.6" r="2.1" fill="#fff" stroke="#333" stroke-width="0.8"/>
</g>
<!-- dimension left -->
<g stroke="#777" stroke-width="0.8" fill="none"><path d="M30.5 261.9L47 261"/></g>
<path d="M43.2 263V291" stroke="#1a1a1a" stroke-width="0.8"/>
<path d="M43.2 260.9L41.4 265.6H45Z M43.2 292.6L41.4 287.9H45Z" fill="#1a1a1a"/>
<text x="11" y="274.4" class="rm" style="font-size:10.4px" textLength="13.6" lengthAdjust="spacingAndGlyphs">18”</text>
<text x="1.4" y="287.6" class="rm" style="font-size:10.4px" textLength="32.6" lengthAdjust="spacingAndGlyphs">(46 cm)</text>
<!-- dimension right -->
<path d="M329 276.4L338.8 284.2" stroke="#1a1a1a" stroke-width="0.8"/>
<path d="M334.9 284V308.5" stroke="#1a1a1a" stroke-width="0.8"/>
<path d="M334.9 281.6L333.1 286.3H336.7Z M334.9 310.4L333.1 305.7H336.7Z" fill="#1a1a1a"/>
<text transform="translate(339.2 301.6) rotate(38.5)" class="rm" style="font-size:8px" textLength="55" lengthAdjust="spacingAndGlyphs">18” (46 cm)</text>
<!-- room labels -->
<text x="445" y="219.8" class="rm" style="font-size:10.6px" textLength="38" lengthAdjust="spacingAndGlyphs">Hallway</text>
<text x="276.900" y="380.2" class="rm" style="font-size:11px" textLength="86.800" lengthAdjust="spacingAndGlyphs">Mechanical Room</text>
<!-- note -->
<g class="nt" stroke="#1a1a1a" stroke-width="0.22">
<text x="350.8" y="94.8" textLength="83" lengthAdjust="spacingAndGlyphs">The INDOOR charcoal filter</text>
<text x="350.8" y="103.85" textLength="90.6" lengthAdjust="spacingAndGlyphs">(C) is used to filter potentially</text>
<text x="350.8" y="112.9" textLength="82.4" lengthAdjust="spacingAndGlyphs">contaminated INDOOR air</text>
<text x="350.8" y="121.95" textLength="118.6" lengthAdjust="spacingAndGlyphs">and is ONLY used when an OUTDOOR</text>
<text x="350.8" y="131.0" textLength="98.6" lengthAdjust="spacingAndGlyphs">pickup point (B) is not available</text>
<text x="361.6" y="140.05" textLength="102" lengthAdjust="spacingAndGlyphs">to provide clean, fresh, purge air</text>
<text x="371.6" y="149.1" textLength="49" lengthAdjust="spacingAndGlyphs">back to the MZ.</text>
</g>

<!-- watermark -->
<g fill="#bfe6d8" opacity="0.62" style="font-family:'Liberation Serif',serif" font-size="31"><text transform="translate(273.5 238.5) rotate(-23.5)" style="font-family:'Liberation Serif',serif" textLength="42" lengthAdjust="spacing">CO</text><text transform="translate(319 221.500) rotate(-23.5)" style="font-family:'Liberation Serif',serif" textLength="100" lengthAdjust="spacing">TECNO</text></g>
<!-- circle labels -->
<g id="labels">
<circle class="cc" cx="130.5" cy="186.7" r="8.7"/><text class="cl" x="130.5" y="190.3">A</text>
<circle class="cc" cx="64" cy="247.2" r="8.7"/><text class="cl" x="64" y="250.8">A</text>
<circle class="cc" cx="248.4" cy="267.3" r="8.7"/><text class="cl" x="248.4" y="270.9">A</text>
<circle class="cc" cx="308" cy="272.9" r="8.7"/><text class="cl" x="308" y="276.5">A</text>
<circle class="cc" cx="283.4" cy="188.1" r="8.7"/><text class="cl" x="283.4" y="191.7">E</text>
<circle class="cc" cx="333.3" cy="101.8" r="8.7"/><text class="cl" x="333.3" y="105.4">C</text>
<circle class="cc" cx="473.3" cy="95.3" r="8.7"/><text class="cl" x="473.3" y="98.9">B</text>
<circle class="cc" cx="505" cy="76.8" r="8.7"/><text class="cl" x="505" y="80.4">F</text>
<circle class="cc" cx="585.2" cy="50" r="8.7"/><text class="cl" x="585.2" y="53.6">I</text>
<circle class="cc" cx="12.5" cy="196" r="8.7"/><text class="cl" x="12.5" y="199.6">D</text>
<circle class="cc" cx="69.5" cy="201.5" r="8.7"/><text class="cl" x="69.5" y="205.1">G</text>
<circle class="cc" cx="484.4" cy="335.4" r="8.7"/><text class="cl" x="484.4" y="339.0">H</text>
<circle class="cc" cx="152" cy="331.5" r="8.7"/><text class="cl" x="152" y="335.1">J</text>
</g>

</svg>
</body>
</html>
